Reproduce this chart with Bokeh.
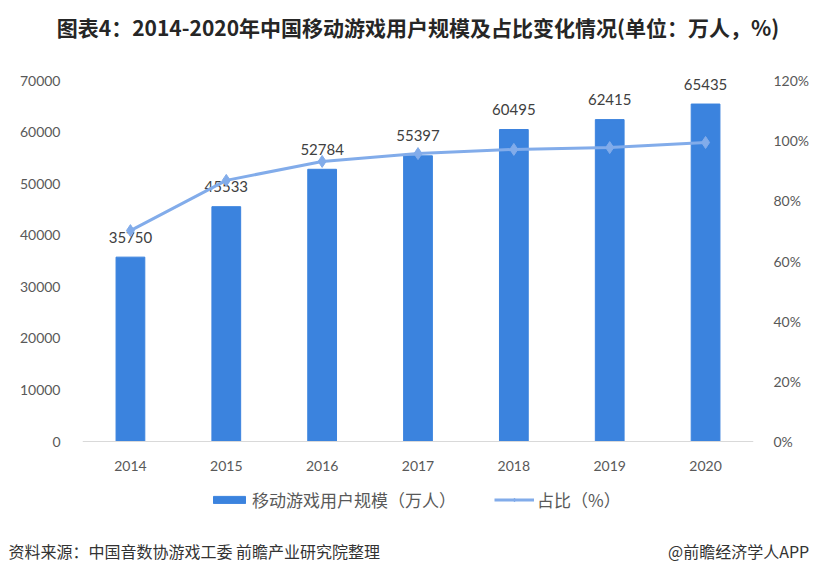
from bokeh.plotting import figure
from bokeh.models import (ColumnDataSource, LinearAxis, Range1d, FactorRange, Legend, LegendItem,
                          Title, FixedTicker, PrintfTickFormatter, Span)
from bokeh.core.properties import value
from bokeh.embed import file_html
from bokeh.resources import INLINE

# ---- data ----
years = ["2014", "2015", "2016", "2017", "2018", "2019", "2020"]
users = [35750, 45533, 52784, 55397, 60495, 62415, 65435]
share = [70.1, 86.8, 93.1, 95.7, 97.1, 97.7, 99.4]
left_ticks = [0, 10000, 20000, 30000, 40000, 50000, 60000, 70000]
right_ticks = [0, 20, 40, 60, 80, 100, 120]

# ---- layout constants (pixels) ----
W, H = 830, 571
FRAME_L, FRAME_R = 82, 753
FRAME_T, FRAME_B = 41, 530
ZERO_PX, TOP_PX = 441, 80          # where 0 and the top tick sit vertically

k_left = left_ticks[-1] / (ZERO_PX - TOP_PX)
k_right = right_ticks[-1] / (ZERO_PX - TOP_PX)

BAR = "#3B83DE"
LINE = "#82ACEA"
TXT = "#595959"
CJK = "Noto Sans CJK SC"

src = ColumnDataSource(dict(years=years, users=users, share=share,
                            lbl=[str(u) for u in users], zero=[0] * len(years)))

p = figure(width=W, height=H, frame_width=FRAME_R - FRAME_L, frame_height=FRAME_B - FRAME_T,
           x_range=FactorRange(*years, range_padding=0.0),
           y_range=Range1d(-(FRAME_B - ZERO_PX) * k_left, (ZERO_PX - FRAME_T) * k_left),
           x_axis_location=None, output_backend="svg", toolbar_location=None,
           min_border_left=FRAME_L, min_border_right=W - FRAME_R,
           min_border_top=FRAME_T, min_border_bottom=H - FRAME_B)
p.outline_line_color = None
p.xgrid.grid_line_color = None
p.ygrid.grid_line_color = None
p.background_fill_color = "white"
p.border_fill_color = "white"

p.extra_y_ranges = {"pct": Range1d(-(FRAME_B - ZERO_PX) * k_right, (ZERO_PX - FRAME_T) * k_right)}

# baseline (category axis line)
p.add_layout(Span(location=0, dimension="width", line_color="#D9D9D9", line_width=1))

bars = p.vbar(x="years", top="users", width=0.30, source=src, color=BAR)
p.text(x="years", y="users", text="lbl", source=src, text_align="center",
       text_baseline="middle", y_offset=-20, text_font_size="15px", text_color="#404040",
       text_font=value("Lato"))
# category labels
p.text(x="years", y="zero", text="years", source=src, text_align="center",
       text_baseline="middle", y_offset=24, text_font_size="14px", text_color=TXT,
       text_font=value("Lato"))

ln = p.line(x="years", y="share", source=src, y_range_name="pct", line_color=LINE, line_width=3)
mk = p.scatter(x="years", y="share", source=src, y_range_name="pct", marker="diamond",
               size=12, fill_color=LINE, line_color=LINE)

# left axis
ax = p.yaxis[0]
ax.ticker = FixedTicker(ticks=left_ticks)
ax.axis_line_color = None
ax.major_tick_line_color = None
ax.minor_tick_line_color = None
ax.major_label_text_color = TXT
ax.major_label_text_font = "Lato"
ax.major_label_text_font_size = "14px"
ax.major_label_standoff = 16

# right axis
rax = LinearAxis(y_range_name="pct", ticker=FixedTicker(ticks=right_ticks),
                 formatter=PrintfTickFormatter(format="%d%%"))
rax.axis_line_color = None
rax.major_tick_line_color = None
rax.minor_tick_line_color = None
rax.major_label_text_color = TXT
rax.major_label_text_font = "Lato"
rax.major_label_text_font_size = "14px"
rax.major_label_standoff = 14
p.add_layout(rax, "right")

title = Title(text="图表4：2014-2020年中国移动游戏用户规模及占比变化情况(单位：万人，%)",
              align="center", text_font=CJK, text_font_size="21px", text_font_style="bold",
              text_color="#262626", standoff=0)
p.add_layout(title, "above")

legend = Legend(items=[LegendItem(label="移动游戏用户规模（万人）", renderers=[bars]),
                       LegendItem(label="占比（%）", renderers=[ln, mk])],
                orientation="horizontal", location=(127, FRAME_B - 512),
                glyph_width=40, glyph_height=9, spacing=38, label_standoff=3,
                label_text_font=CJK, label_text_font_size="17px", label_text_color=TXT,
                border_line_color=None, background_fill_alpha=0, margin=0, padding=4)
p.add_layout(legend, "center")

gap = "\u3000" * 18
src_title = Title(text="资料来源：中国音数协游戏工委 前瞻产业研究院整理" + gap + "@前瞻经济学人APP",
                  align="left", offset=8 - FRAME_L, text_font=CJK, text_font_size="16px",
                  text_font_style="normal", text_color="#333333", standoff=12)
p.add_layout(src_title, "below")

open("out.html", "w").write(file_html(p, INLINE))
